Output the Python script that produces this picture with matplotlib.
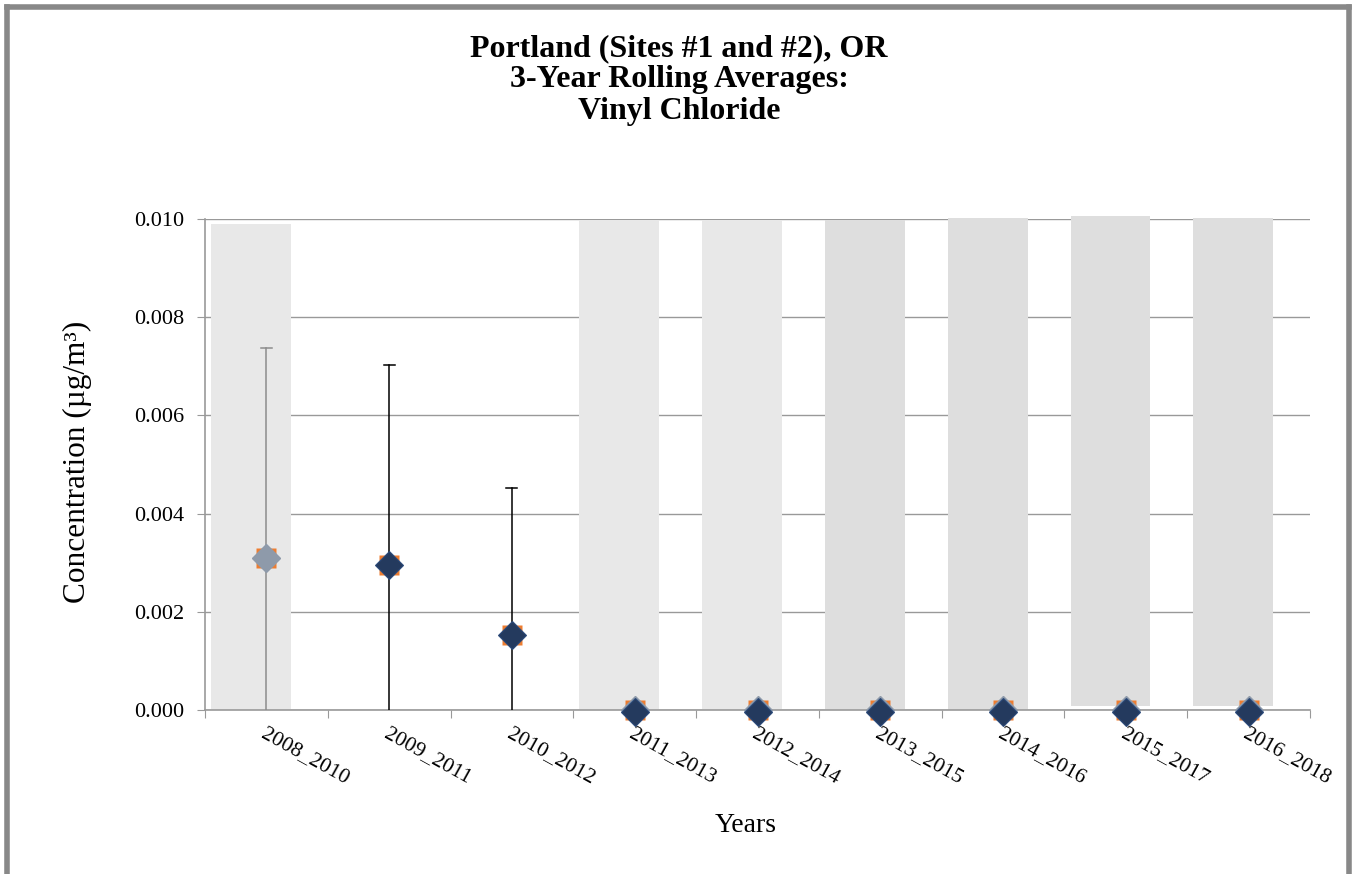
import matplotlib
matplotlib.use("Agg")
import matplotlib.pyplot as plt
from matplotlib.lines import Line2D

categories = ["2008_2010", "2009_2011", "2010_2012", "2011_2013", "2012_2014",
              "2013_2015", "2014_2016", "2015_2017", "2016_2018"]
# shaded (non-detect) band tops/bottoms
band_top = [0.0099, None, None, 0.00998, 0.00998, 0.00998, 0.01002, 0.01006, 0.01002]
band_bottom = [0.0, None, None, 0.0, 0.0, 0.00003, 0.0, 0.00008, 0.00008]
band_color = ["#e8e8e8", None, None, "#e8e8e8", "#e8e8e8", "#dedede", "#dedede", "#dedede", "#dedede"]
# averages
site_avg = [None, 0.00295, 0.00152, 0.0, 0.0, 0.0, 0.0, 0.0, 0.0]      # navy diamonds
alt_avg = [0.0031, None, None, 0.0, 0.0, 0.0, 0.0, 0.0, 0.0]           # gray diamonds
upper_ci = [0.00737, 0.00703, 0.00452, None, None, None, None, None, None]
lower_ci = [0.0, 0.0, 0.0, None, None, None, None, None, None]
yticks = [0.000, 0.002, 0.004, 0.006, 0.008, 0.010]
title_lines = ["Portland (Sites #1 and #2), OR", "3-Year Rolling Averages:", "Vinyl Chloride"]

W, H = 1354, 874
fig = plt.figure(figsize=(W / 100, H / 100), dpi=100)
ax = fig.add_axes([205 / W, 1 - 710 / H, (1310 - 205) / W, (710 - 219) / H])

serif = ["Liberation Serif", "DejaVu Serif"]
x = list(range(len(categories)))

for i in x:
    if band_top[i] is not None:
        ax.bar(i - 0.125, band_top[i] - band_bottom[i], bottom=band_bottom[i], width=0.65,
               color=band_color[i], zorder=1, clip_on=False)

for i in x:
    if upper_ci[i] is not None:
        col = "#8c8c8c" if i == 0 else "#000000"
        ax.plot([i, i], [lower_ci[i], upper_ci[i]], color=col, lw=1.1, zorder=3)
        ax.plot([i - 0.045, i + 0.045], [upper_ci[i], upper_ci[i]], color=col, lw=1.1, zorder=3)

for i in x:
    vals = [v for v in (site_avg[i], alt_avg[i]) if v is not None]
    v = vals[0]
    ax.plot(i, v, marker="s", ms=14.5, color="#ed7d31", mec="none", zorder=4, clip_on=False)
for i in x:
    if alt_avg[i] is not None:
        ax.plot(i, alt_avg[i], marker="D", ms=14, color="#8e9aaa", mec="#8e9aaa", zorder=5, clip_on=False)
for i in x:
    if site_avg[i] is not None:
        off = -0.00004 if site_avg[i] == 0 else 0
        ax.plot(i, site_avg[i] + off, marker="D", ms=14, color="#243a5e", mec="#2b4a7a",
                mew=0.8, zorder=6, clip_on=False)

ax.set_xlim(-0.5, len(categories) - 0.5)
ax.set_ylim(0, 0.010)
ax.set_yticks(yticks)
ax.set_yticklabels([f"{t:.3f}" for t in yticks], fontfamily=serif, fontsize=16)
ax.yaxis.grid(True, color="#999999", lw=1)
ax.set_axisbelow(True)

ax.set_xticks([i - 0.5 for i in range(len(categories) + 1)])
ax.set_xticklabels([])
ax.tick_params(axis="x", length=6, color="#999999", direction="out")
ax.tick_params(axis="y", length=6, color="#999999", direction="out", pad=9)
for s in ["top", "right"]:
    ax.spines[s].set_visible(False)
for s in ["left", "bottom"]:
    ax.spines[s].set_color("#999999")
    ax.spines[s].set_linewidth(1.2)

for i, c in enumerate(categories):
    ax.text(i - 0.03, -0.00045, c, rotation=-29, rotation_mode="anchor", ha="left", va="center",
            fontfamily=serif, fontsize=15.5, transform=ax.transData)

fig.text(746 / W, 1 - 825 / H, "Years", ha="center", va="center", fontfamily=serif, fontsize=20)
fig.text(77 / W, 1 - 462 / H, "Concentration (µg/m³)", rotation=90, ha="center", va="center",
         fontfamily=serif, fontsize=22.5)
for k, (t, yy) in enumerate(zip(title_lines, [49, 80, 111])):
    fig.text(679 / W, 1 - yy / H, t, ha="center", va="center", fontfamily=serif,
             fontsize=23, fontweight="bold")

# outer border (left, top, right)
bc = "#888888"
fig.add_artist(Line2D([7 / W, 7 / W], [0, 1 - 7 / H], color=bc, lw=4, transform=fig.transFigure))
fig.add_artist(Line2D([7 / W, 1 - 5 / W], [1 - 7 / H, 1 - 7 / H], color=bc, lw=4, transform=fig.transFigure))
fig.add_artist(Line2D([1 - 5 / W, 1 - 5 / W], [0, 1 - 7 / H], color=bc, lw=4, transform=fig.transFigure))

fig.savefig("out.png", dpi=100)
